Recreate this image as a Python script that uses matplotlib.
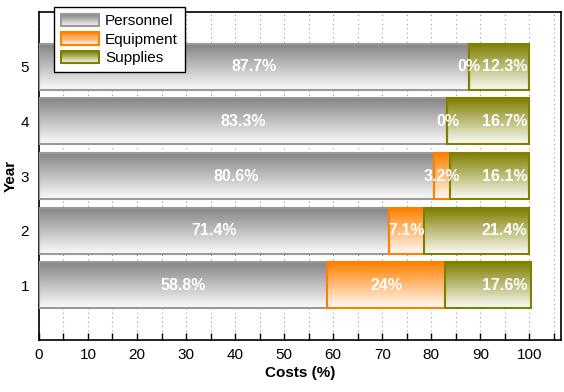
import numpy as np
import matplotlib
matplotlib.use("Agg")
import matplotlib.pyplot as plt
from matplotlib.colors import LinearSegmentedColormap
from matplotlib.patches import Rectangle
from matplotlib.legend_handler import HandlerBase
from matplotlib.ticker import MultipleLocator

plt.rcParams['font.family'] = ['Liberation Sans', 'DejaVu Sans']

years = [1, 2, 3, 4, 5]
series_names = ["Personnel", "Equipment", "Supplies"]
personnel = [58.8, 71.4, 80.6, 83.3, 87.7]
equipment = [24.0, 7.1, 3.2, 0.0, 0.0]
supplies = [17.6, 21.4, 16.1, 16.7, 12.3]
personnel_labels = ["58.8%", "71.4%", "80.6%", "83.3%", "87.7%"]
equipment_labels = ["24%", "7.1%", "3.2%", "0%", "0%"]
supplies_labels = ["17.6%", "21.4%", "16.1%", "16.7%", "12.3%"]

top_colors = ["#858585", "#ff8000", "#7f7f00"]
edge_colors = ["#9a9a9a", "#ff8000", "#808000"]

fig = plt.figure(figsize=(5.64, 3.92), dpi=100)
ax = fig.add_axes([0.069, 0.133, 0.926, 0.836])

bar_h = 0.84
grad = np.linspace(0, 1, 256).reshape(-1, 1)

lefts = np.zeros(len(years))
for si, vals in enumerate([personnel, equipment, supplies]):
    cmap = LinearSegmentedColormap.from_list("g%d" % si, [top_colors[si], "#ffffff"])
    vals = np.array(vals)
    bars = ax.barh(years, vals, left=lefts, height=bar_h, facecolor="none",
                   edgecolor=edge_colors[si], linewidth=1.5, zorder=3)
    for b in bars:
        x0, y0, w, h = b.get_x(), b.get_y(), b.get_width(), b.get_height()
        if w > 0:
            ax.imshow(grad, extent=[x0, x0 + w, y0, y0 + h], origin="upper", aspect="auto",
                      cmap=cmap, vmin=0.0, vmax=1.03, zorder=2, interpolation="bilinear")
    lefts = lefts + vals

for i, y in enumerate(years):
    kw = dict(color="white", fontweight="bold", fontsize=11.5, va="center", zorder=5)
    ax.text(personnel[i] / 2, y, personnel_labels[i], ha="center", **kw)
    ax.text(personnel[i] + equipment[i] / 2, y, equipment_labels[i], ha="center", **kw)
    ax.text(99.6, y, supplies_labels[i], ha="right", **kw)

ax.set_xlim(0, 106.5)
ax.set_ylim(0, 6)
ax.xaxis.set_major_locator(MultipleLocator(10))
ax.xaxis.set_minor_locator(MultipleLocator(5))
ax.set_yticks(years)
ax.tick_params(axis="x", which="both", direction="in", length=5, width=1, labelsize=11, pad=6)
ax.tick_params(axis="y", which="both", direction="in", length=0, labelsize=11, pad=7)
ax.grid(axis="x", which="both", linestyle=(0, (1, 3)), color="#999999", linewidth=0.8, zorder=0)
ax.set_axisbelow(True)
for s in ax.spines.values():
    s.set_linewidth(1.2)
ax.set_xlabel("Costs (%)", fontweight="bold", fontsize=11, labelpad=3)
ax.set_ylabel("Year", fontweight="bold", fontsize=11, labelpad=2)


class GradHandler(HandlerBase):
    def __init__(self, color, edge):
        super().__init__()
        self.color = color
        self.edge = edge

    def create_artists(self, legend, orig_handle, xdescent, ydescent, width, height, fontsize, trans):
        arts = []
        n = 12
        c0 = np.array(matplotlib.colors.to_rgb(self.color))
        for k in range(n):
            t = k / (n - 1)
            c = c0 * (1 - t * 0.9) + np.ones(3) * t * 0.9
            r = Rectangle((-xdescent, -ydescent + height * (1 - (k + 1) / n)), width, height / n,
                          facecolor=c, edgecolor="none", transform=trans)
            arts.append(r)
        arts.append(Rectangle((-xdescent, -ydescent), width, height, facecolor="none",
                              edgecolor=self.edge, linewidth=1.5, transform=trans))
        return arts


handles = [Rectangle((0, 0), 1, 1) for _ in series_names]
hmap = {h: GradHandler(top_colors[i], edge_colors[i]) for i, h in enumerate(handles)}
leg = ax.legend(handles, series_names, handler_map=hmap, loc="upper left",
                bbox_to_anchor=(0.02, 1.03), fontsize=11, frameon=True, fancybox=False,
                edgecolor="black", framealpha=1, borderpad=0.45, labelspacing=0.25,
                handlelength=2.5, handleheight=0.9, handletextpad=0.4, borderaxespad=0.3)
leg.get_frame().set_linewidth(1.0)
leg.set_zorder(10)

fig.savefig("out.png", dpi=100)
